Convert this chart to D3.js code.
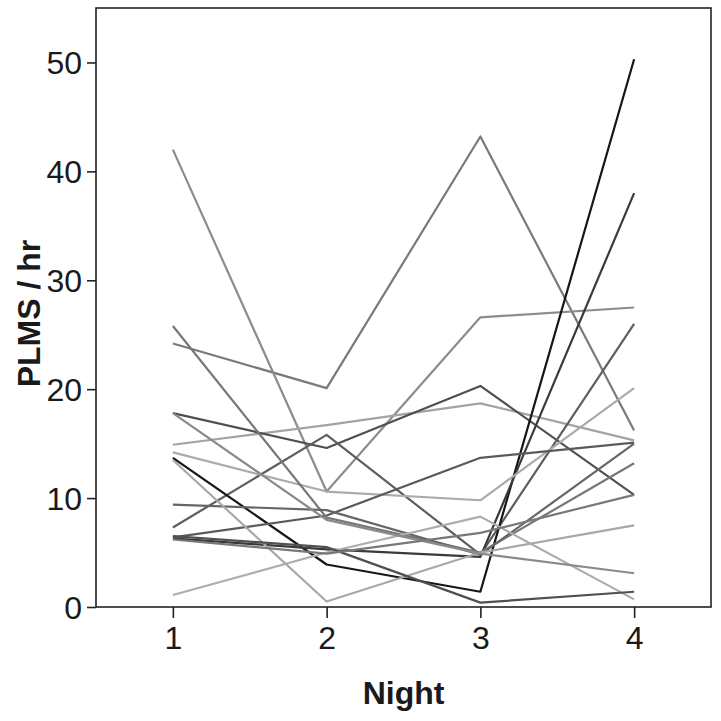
<!DOCTYPE html>
<html>
<head>
<meta charset="utf-8">
<script src="https://cdn.jsdelivr.net/npm/d3@7"></script>
<style>
  body { margin: 0; background: #fff; }
  svg { display: block; font-family: "Liberation Sans", Arial, sans-serif; }
</style>
</head>
<body>
<svg id="chart" width="721" height="721"></svg>
<script>
// nights on the x axis
const nights = [1, 2, 3, 4];
const yTicks = [0, 10, 20, 30, 40, 50];

// one array per subject: PLMS/hr on nights 1..4
const subj01 = [24.2, 20.1, 43.2, 16.2];
const subj02 = [42.0, 10.6, 26.6, 27.5];
const subj03 = [14.9, 16.7, 18.7, 15.3];
const subj04 = [17.8, 14.6, 20.3, 10.3];
const subj05 = [7.3, 15.8, 4.8, 26.0];
const subj06 = [13.7, 3.9, 1.4, 50.3];
const subj07 = [6.3, 5.3, 4.6, 38.0];
const subj08 = [14.2, 10.6, 9.8, 20.1];
const subj09 = [6.4, 8.4, 13.7, 15.1];
const subj10 = [25.8, 8.2, 5.0, 13.2];
const subj11 = [9.4, 8.9, 4.8, 15.0];
const subj12 = [1.1, 5.0, 8.3, 0.7];
const subj13 = [13.5, 0.5, 5.0, 7.5];
const subj14 = [17.8, 8.0, 4.9, 3.1];
const subj15 = [6.5, 5.5, 0.4, 1.4];
const subj16 = [6.2, 4.9, 6.8, 10.3];

const subjects = [subj01, subj02, subj03, subj04, subj05, subj06, subj07, subj08,
                  subj09, subj10, subj11, subj12, subj13, subj14, subj15, subj16];
// grey shade of each line
const shades = ["#7a7a7a", "#8c8c8c", "#a3a3a3", "#4f4f4f", "#5e5e5e", "#161616", "#3a3a3a", "#ababab",
                "#5a5a5a", "#777777", "#666666", "#adadad", "#a8a8a8", "#8a8a8a", "#505050", "#787878"];

const svg = d3.select("#chart");
const margin = { left: 96, top: 8, right: 10, bottom: 114 };
const W = 721, H = 721;

const x = d3.scaleLinear().domain([0.5, 4.5]).range([margin.left, W - margin.right]);
const y = d3.scaleLinear().domain([0, 55]).range([H - margin.bottom, margin.top]);

// lines
const line = d3.line()
  .x((d, i) => x(nights[i]))
  .y(d => y(d));

svg.append("g")
  .selectAll("path")
  .data(subjects)
  .join("path")
  .attr("d", d => line(d))
  .attr("fill", "none")
  .attr("stroke", (d, i) => shades[i])
  .attr("stroke-width", 2.2)
  .attr("stroke-linejoin", "round");

// frame
svg.append("rect")
  .attr("x", x(0.5))
  .attr("y", y(55))
  .attr("width", x(4.5) - x(0.5))
  .attr("height", y(0) - y(55))
  .attr("fill", "none")
  .attr("stroke", "#222")
  .attr("stroke-width", 1.6);

// axes
const yAxis = svg.append("g")
  .attr("transform", `translate(${margin.left},0)`)
  .call(d3.axisLeft(y).tickValues(yTicks).tickSize(9).tickPadding(5));

const xAxis = svg.append("g")
  .attr("transform", `translate(0,${H - margin.bottom})`)
  .call(d3.axisBottom(x).tickValues(nights).tickFormat(d3.format("d")).tickSize(11).tickPadding(8));

[yAxis, xAxis].forEach(a => {
  a.select(".domain").remove();
  a.selectAll("line").attr("stroke", "#222").attr("stroke-width", 1.6);
  a.selectAll("text")
    .attr("fill", "#1a1a1a")
    .style("font-size", "32px")
    .style("font-family", "\"Liberation Sans\", Arial, sans-serif");
});
yAxis.selectAll("text").attr("dy", "0.36em");

// axis titles
svg.append("text")
  .attr("x", x(2.5))
  .attr("y", 704)
  .attr("text-anchor", "middle")
  .style("font-size", "32px")
  .style("font-weight", "bold")
  .attr("fill", "#1a1a1a")
  .text("Night");

svg.append("text")
  .attr("transform", `translate(40,${(y(0) + y(55)) / 2 + 6}) rotate(-90)`)
  .attr("text-anchor", "middle")
  .style("font-size", "32px")
  .style("font-weight", "bold")
  .attr("fill", "#1a1a1a")
  .text("PLMS / hr");
</script>
</body>
</html>
